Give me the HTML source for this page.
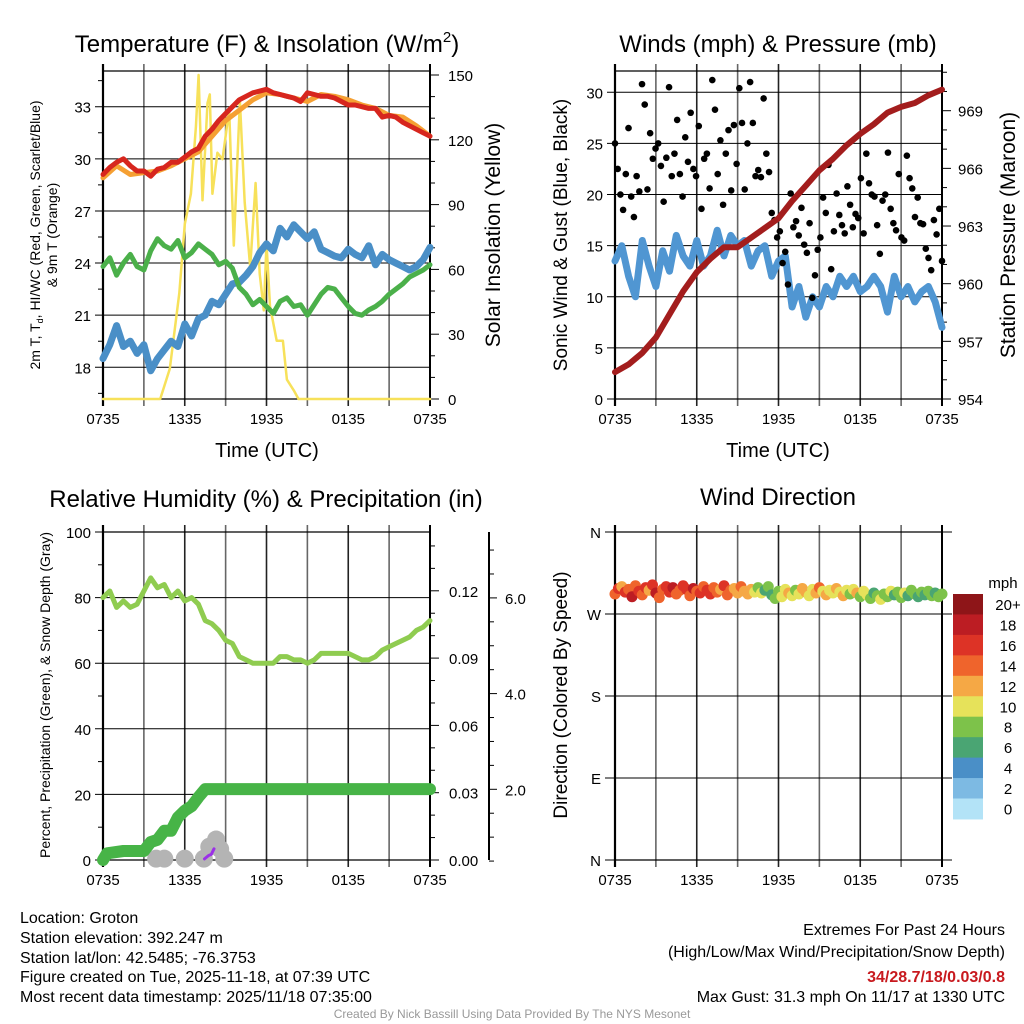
<!DOCTYPE html>
<html><head><meta charset="utf-8"><style>
html,body{margin:0;padding:0;background:#fff;}
svg{display:block;font-family:"Liberation Sans",Arial,sans-serif;}
</style></head><body>
<svg id="fig" width="1024" height="1024" viewBox="0 0 1024 1024" xmlns="http://www.w3.org/2000/svg">
<rect width="1024" height="1024" fill="#fff"/>
<g id="layer"></g>
<text x="267" y="52" font-size="24" text-anchor="middle">Temperature (F) &amp; Insolation (W/m<tspan font-size="15" dy="-10">2</tspan><tspan dy="10">)</tspan></text>
<text x="778" y="52" font-size="24" text-anchor="middle">Winds (mph) &amp; Pressure (mb)</text>
<text x="266" y="507" font-size="24" text-anchor="middle">Relative Humidity (%) &amp; Precipitation (in)</text>
<text x="778" y="505" font-size="24" text-anchor="middle">Wind Direction</text>

<text x="267" y="457" font-size="20" text-anchor="middle">Time (UTC)</text>
<text x="778" y="457" font-size="20" text-anchor="middle">Time (UTC)</text>

<text transform="translate(40,235) rotate(-90)" font-size="14" text-anchor="middle">2m T, T<tspan font-size="9" dy="3">d</tspan><tspan dy="-3">, HI/WC (Red, Green, Scarlet/Blue)</tspan></text>
<text transform="translate(57,235) rotate(-90)" font-size="14" text-anchor="middle">&amp; 9m T (Orange)</text>
<text transform="translate(500,235) rotate(-90)" font-size="21" text-anchor="middle">Solar Insolation (Yellow)</text>
<text transform="translate(567,235) rotate(-90)" font-size="19" text-anchor="middle">Sonic Wind &amp; Gust (Blue, Black)</text>
<text transform="translate(1015,235) rotate(-90)" font-size="21" text-anchor="middle">Station Pressure (Maroon)</text>
<text transform="translate(50,695) rotate(-90)" font-size="14" text-anchor="middle">Percent, Precipitation (Green), &amp; Snow Depth (Gray)</text>
<text transform="translate(567,695) rotate(-90)" font-size="19" text-anchor="middle">Direction (Colored By Speed)</text>

<g font-size="16">
<text x="20" y="923">Location: Groton</text>
<text x="20" y="943">Station elevation: 392.247 m</text>
<text x="20" y="963">Station lat/lon: 42.5485; -76.3753</text>
<text x="20" y="982">Figure created on Tue, 2025-11-18, at 07:39 UTC</text>
<text x="20" y="1002">Most recent data timestamp: 2025/11/18 07:35:00</text>
</g>
<g font-size="16" text-anchor="end">
<text x="1005" y="935">Extremes For Past 24 Hours</text>
<text x="1005" y="957">(High/Low/Max Wind/Precipitation/Snow Depth)</text>
<text x="1005" y="982" fill="#c8191e" font-weight="bold">34/28.7/18/0.03/0.8</text>
<text x="1005" y="1002">Max Gust: 31.3 mph On 11/17 at 1330 UTC</text>
</g>
<text x="512" y="1018" font-size="12" fill="#999" text-anchor="middle">Created By Nick Bassill Using Data Provided By The NYS Mesonet</text>
</svg>
<script>
// ---------- data ----------
const timeLabels = ["0735","1335","1935","0135","0735"];
// Temperature panel (half-hourly, 0..24 h)
const tempRed = [29.1,29.5,29.8,30.0,29.6,29.3,29.3,29.0,29.4,29.5,29.8,29.8,30.1,30.4,30.6,31.3,31.7,32.2,32.6,33.0,33.4,33.6,33.8,33.9,34.0,33.8,33.7,33.6,33.5,33.3,33.8,33.7,33.6,33.6,33.5,33.3,33.1,33.1,33.0,32.9,32.9,32.4,32.5,32.4,32.1,31.9,31.7,31.5,31.3];
const tempOrange = [28.9,29.6,29.1,29.2,29.3,29.6,30.0,30.4,31.3,32.2,32.8,33.4,33.8,33.7,33.5,33.3,33.7,33.6,33.4,33.1,32.9,32.5,32.4,31.9,31.3];
const dewGreen = [23.8,24.3,23.3,24.0,24.5,23.8,23.6,24.7,25.4,25.0,24.8,25.3,24.3,24.6,25.1,24.8,24.5,23.9,24.1,23.7,22.6,22.2,21.6,21.9,21.5,21.1,21.8,22.0,21.5,21.6,21.0,21.6,22.2,22.6,22.5,22.0,21.5,21.1,21.0,21.3,21.5,21.8,22.2,22.5,22.8,23.2,23.4,23.6,23.9];
const chillBlue = [18.5,19.3,20.4,19.2,19.5,18.8,19.3,17.8,18.5,19.0,19.5,19.2,20.5,19.8,20.8,21.0,21.8,21.6,22.2,22.8,22.9,23.3,23.8,24.6,25.1,24.7,26.0,25.5,26.2,25.8,25.4,25.8,24.8,24.6,24.4,24.3,24.8,24.5,24.3,25.0,23.9,24.5,24.2,24.0,23.8,23.6,23.8,24.2,24.9];
const solarHours = [0,4.2,4.9,5.6,6.0,6.45,6.82,7.02,7.3,7.67,7.84,8.03,8.4,8.77,9.26,9.6,10.05,10.4,10.8,11.2,11.5,11.8,12.0,12.26,12.75,13.2,13.5,14.0,14.35,24];
const solarVals = [0,0,14,49,81,95,126,150,92,137,141,95,114,111,134,71,138,91,61,100,58,41,72,43,27,27,9,4,0,0];
// Wind panel
const windBlue = [13.5,15,12,10,15.5,13,11,14.5,12.5,16,14,13,15.5,13,14,16.5,14,16,15,15.5,13,14.5,15,12,13.5,14,9,11,8,10,9,11,10,12,11,12,10.5,11,12,11,8.5,12,10,11,9.5,10.5,11,9.5,7];
const gustVals = [25,22.5,20,18.5,22,26.5,19.8,17.8,21.8,20.3,30.8,28.8,20.5,26,23.5,24.5,25,22.8,19.3,23.6,30.5,21.8,24,27.3,22,19.8,25.6,23.2,28,22.5,21.8,26.7,18.6,23.5,24,20.6,31.2,28.3,22,25.3,19,24,26.3,20.4,26.8,23,30.4,27,20.5,25,31,27,21.8,22.4,21.7,29.4,24,22.2,18.2,17.5,15.8,16.4,13.3,14.4,11.2,20.1,16.8,17.4,16,18.7,15.1,14.3,17.2,9.9,12.1,14.6,15.8,19.7,18.2,22.9,12.7,16.4,20.1,18,17,16.2,20.8,19,16.8,18.1,17.7,21.6,16.2,24,21.1,20,19.8,17,14.2,19.4,20,24.1,18.6,17.2,16.5,22,15.8,15.5,23.8,21.6,20.6,17.8,19.7,17.2,17.1,14.7,13.8,12.6,17.5,16.1,18.6,13.5];
const pressureVals = [955.4,955.8,956.4,957.2,958.4,959.6,960.6,961.3,961.9,961.9,962.4,962.9,963.4,964.3,965.1,965.9,966.5,967.2,967.8,968.3,968.9,969.2,969.4,969.8,970.1];
// Humidity panel
const rhVals = [80,82,77,79,77,78,82,86,83,84,80,82,79,80,78,73,72,70,67,66,62,61,60,60,60,60,62,62,61,61,60,61,63,63,63,63,63,62,61,61,62,64,65,66,67,68,70,71,73];
const precipHours = [0,0.3,1.5,3.0,3.5,4.0,4.5,5.0,5.5,6.0,6.5,7.0,7.5,24];
const precipVals = [0,0.003,0.004,0.004,0.008,0.009,0.013,0.013,0.019,0.022,0.024,0.028,0.0316,0.0316];
const snowHours = [3.9,4.5,6.0,7.4,7.8,8.3,8.6,8.9];
const snowVals = [0.55,0.55,0.55,0.55,0.8,0.95,0.75,0.55];
const snowRateHours = [7.45,7.75,7.95,8.15];
const snowRateVals = [0.0005,0.002,0.0025,0.005];
// Wind direction panel
const dirVals = [292,298,300,294,297,289,301,295,291,299,296,302,293,288,297,300,294,299,292,296,301,297,290,298,295,293,300,296,292,299,294,297,301,291,296,298,293,300,295,292,297,294,299,293,296,300,291,287,295,289,297,293,290,296,292,298,294,290,297,293,299,295,291,296,293,298,294,290,296,292,297,293,289,295,291,287,293,290,286,292,289,295,291,294,288,293,290,296,292,289,294,291,295,290,293,289,292];
const dirSpeeds = [14,16,13,17,15,18,14,16,15,17,13,16,18,14,15,17,16,19,15,14,16,17,15,18,14,16,15,17,16,14,15,13,16,14,15,12,13,14,12,13,12,10,9,11,7,8,6,9,8,10,11,12,10,9,11,12,13,10,11,12,14,11,12,10,11,13,10,12,11,9,10,12,8,11,10,9,7,8,10,9,8,11,7,9,8,10,7,8,9,6,8,7,9,8,7,9,8];
const speedBins = ["0","2","4","6","8","10","12","14","16","18","20+"];
const speedColors = ["#b3e3f7","#7dbae3","#4a8fc7","#4aa573","#7dc24a","#e6e25a","#f5a845","#ef642c","#dd3326","#bc1d23","#8e1518"];

// ---------- helpers ----------
const NS="http://www.w3.org/2000/svg";
const layer=document.getElementById('layer');
function mk(tag,attrs,parent){const e=document.createElementNS(NS,tag);for(const k in attrs)e.setAttribute(k,attrs[k]);(parent||layer).appendChild(e);return e;}
function lin(d0,d1,r0,r1){return v=>r0+(v-d0)*(r1-r0)/(d1-d0);}
function pathFrom(xs,ys){return xs.map((x,i)=>(i?'L':'M')+x.toFixed(1)+','+ys[i].toFixed(1)).join('');}
function evenHours(n){const a=[];for(let i=0;i<n;i++)a.push(24*i/(n-1));return a;}

function frame(L,R,T,B,name){
  const g=mk('g',{});
  
  
  for(let i=0;i<=8;i++){
    const x=L+(R-L)*i/8;
    mk('line',{x1:x,y1:T-7,x2:x,y2:B+7,stroke:(i%2?'#666':'#222'),'stroke-width':1.6},g);
  }
  mk('line',{x1:L,y1:T,x2:R,y2:T,stroke:'#000','stroke-width':1.2},g);
  mk('line',{x1:L,y1:B,x2:R,y2:B,stroke:'#000','stroke-width':1.2},g);
  mk('line',{x1:L,y1:T-7,x2:L,y2:B+7,stroke:'#000','stroke-width':2.2},g);
  mk('line',{x1:R,y1:T-7,x2:R,y2:B+7,stroke:'#000','stroke-width':2},g);
  timeLabels.forEach((t,i)=>{
    const tx=mk('text',{x:L+(R-L)*i/4,y:B+25,'font-size':15,'text-anchor':'middle'},g);
    
    
    tx.textContent=t;
  });
  return g;
}
function leftAxis(g,L,R,ys,labels,minors){
  ys.forEach((y,i)=>{
    mk('line',{x1:L-8,y1:y,x2:R,y2:y,stroke:'#000','stroke-width':1},g);
    const t=mk('text',{x:L-12,y:y+6,'font-size':15,'text-anchor':'end'},g);
    
    
    t.textContent=labels[i];
  });
  minors.forEach(y=>mk('line',{x1:L-5,y1:y,x2:L,y2:y,stroke:'#000','stroke-width':1},g));
}
function rightAxis(g,X,ys,labels,minors,lx){
  ys.forEach((y,i)=>{
    mk('line',{x1:X,y1:y,x2:X+9,y2:y,stroke:'#000','stroke-width':1},g);
    const t=mk('text',{x:lx,y:y+6,'font-size':15,'text-anchor':'start'},g);
    
    
    t.textContent=labels[i];
  });
  minors.forEach(y=>mk('line',{x1:X,y1:y,x2:X+5,y2:y,stroke:'#000','stroke-width':1},g));
}
function line(xs,ys,color,w,name){
  const p=mk('path',{d:pathFrom(xs,ys),fill:'none',stroke:color,'stroke-width':w,'stroke-linejoin':'round','stroke-linecap':'round'});
  
  
  return p;
}

// ---------- Panel 1: temperature ----------
(function(){
  const L=103,R=430,T=71,B=399;
  const x=lin(0,24,L,R), y=lin(18,33,367.3,106.7), ys=lin(0,150,399,75);
  const g=frame(L,R,T,B,'temperature-panel');
  const major=[18,21,24,27,30,33];
  leftAxis(g,L,R,major.map(y),major.map(String),[16.5,19.5,22.5,25.5,28.5,31.5,34.5].map(y));
  const sm=[0,30,60,90,120,150];
  rightAxis(g,R,sm.map(ys),sm.map(String),[10,20,40,50,70,80,100,110,130,140].map(ys),448);
  const h49=evenHours(49);
  line(solarHours.map(x),solarVals.map(ys),'#f7e15a',2.5,'solar-insolation-line');
  line(h49.map(x),chillBlue.map(y),'#4a8fc7',7,'heat-index-windchill-line');
  line(h49.map(x),dewGreen.map(y),'#4bb04a',5,'dewpoint-line');
  line(evenHours(tempOrange.length).map(x),tempOrange.map(y),'#f5a033',5,'temp-9m-line');
  line(h49.map(x),tempRed.map(y),'#d7261e',5,'temp-2m-line');
})();

// ---------- Panel 2: wind ----------
(function(){
  const L=615,R=942,T=71,B=399;
  const x=lin(0,24,L,R), y=lin(0,30,399,92.3), yp=lin(954,969,399,110.7);
  const g=frame(L,R,T,B,'wind-panel');
  const major=[0,5,10,15,20,25,30];
  leftAxis(g,L,R,major.map(y),major.map(String),[]);
  const pm=[954,957,960,963,966,969];
  const pmin=[955,956,958,959,961,962,964,965,967,968,970,971];
  rightAxis(g,R,pm.map(yp),pm.map(String),pmin.map(yp),958);
  line(evenHours(windBlue.length).map(x),windBlue.map(y),'#5096d2',7,'sonic-wind-line');
  const gh=evenHours(gustVals.length);
  gustVals.forEach((v,i)=>{
    const c=mk('circle',{cx:x(gh[i]),cy:y(v),r:3.3,fill:'#000'});
    
    
  });
  line(evenHours(pressureVals.length).map(x),pressureVals.map(yp),'#a31d1d',6,'pressure-line');
})();

// ---------- Panel 3: humidity ----------
(function(){
  const L=103,R=430,T=532,B=860;
  const x=lin(0,24,L,R), y=lin(0,100,860,532), yp=lin(0,0.03,860,792.7), ysn=lin(0,2,885,789.3);
  const g=frame(L,R,T,B,'humidity-panel');
  const major=[0,20,40,60,80,100];
  leftAxis(g,L,R,major.map(y),major.map(String),[10,30,50,70,90].map(y));
  const pm=[0,0.03,0.06,0.09,0.12];
  rightAxis(g,R,pm.map(yp),pm.map(v=>v.toFixed(2)),[0.01,0.02,0.04,0.05,0.07,0.08,0.10,0.11,0.13,0.14].map(yp),449);
  const g3=mk('g',{});
  
  
  mk('line',{x1:489,y1:532,x2:489,y2:860,stroke:'#000','stroke-width':2},g3);
  [2,4,6].forEach(v=>{
    mk('line',{x1:489,y1:ysn(v),x2:497,y2:ysn(v),stroke:'#000','stroke-width':1},g3);
    const t=mk('text',{x:505,y:ysn(v)+6,'font-size':15},g3);
    
    
    t.textContent=v.toFixed(1);
  });
  [0.5,1,1.5,2.5,3,3.5,4.5,5,5.5,6.5,7].forEach(v=>mk('line',{x1:489,y1:ysn(v),x2:494,y2:ysn(v),stroke:'#000','stroke-width':1},g3));
  snowHours.forEach((h,i)=>{
    const c=mk('circle',{cx:x(h),cy:ysn(snowVals[i]),r:9,fill:'#b4b4b4'});
    
    
  });
  line(precipHours.map(x),precipVals.map(yp),'#47b447',12,'precipitation-line');
  line(snowRateHours.map(x),snowRateVals.map(yp),'#9b30e8',3,'snowfall-line');
  line(evenHours(rhVals.length).map(x),rhVals.map(y),'#8fcc50',5,'relative-humidity-line');
})();

// ---------- Panel 4: wind direction ----------
(function(){
  const L=615,R=942,T=532,B=860;
  const x=lin(0,24,L,R), y=lin(0,360,860,532);
  const g=frame(L,R,T,B,'wind-direction-panel');
  leftAxis(g,L-2,R+10,[0,90,180,270,360].map(y),["N","E","S","W","N"],[]);
  const h=evenHours(dirVals.length);
  function colorFor(s){let k=Math.min(10,Math.floor(s/2));return speedColors[k];}
  dirVals.forEach((d,i)=>{
    const c=mk('circle',{cx:x(h[i]),cy:y(d),r:5.5,fill:colorFor(dirSpeeds[i])});
    
    
  });
  const cb=mk('g',{});
  
  
  const top=594,bh=20.45;
  const t0=mk('text',{x:1003,y:588,'font-size':15,'text-anchor':'middle'},cb);
  
  
  t0.textContent='mph';
  for(let i=0;i<speedColors.length;i++){
    const k=speedColors.length-1-i;
    const r=mk('rect',{x:953,y:top+i*bh,width:30,height:bh+0.5,fill:speedColors[k]},cb);
    
    
    const t=mk('text',{x:1008,y:top+i*bh+16,'font-size':15,'text-anchor':'middle'},cb);
    
    
    t.textContent=speedBins[k];
  }
})();
</script>
</body></html>
